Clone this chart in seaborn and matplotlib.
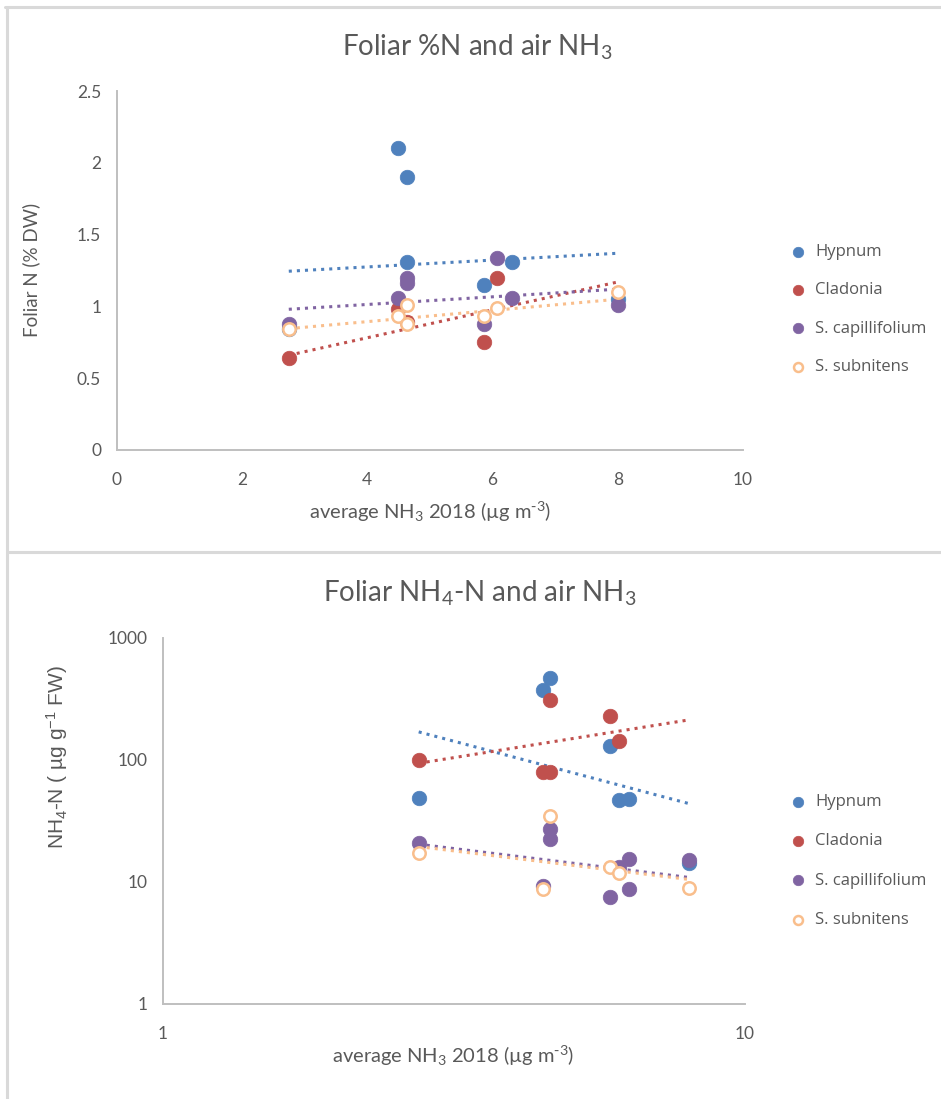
import matplotlib

matplotlib.use("Agg")
import matplotlib.pyplot as plt
import seaborn as sns
from matplotlib.lines import Line2D
from matplotlib.ticker import FixedLocator, NullLocator, FuncFormatter

sns.set_theme(style="white")
plt.rcParams["font.family"] = ["Lato", "DejaVu Sans"]
plt.rcParams["mathtext.default"] = "regular"

species = ["Hypnum", "Cladonia", "S. capillifolium", "S. subnitens"]
colors = ["#4F81BD", "#C0504D", "#8064A2", "#F9BE8C"]
open_marker = [False, False, False, True]

# --- Foliar %N (top panel) ---
pctn_hypnum_x = [2.75, 4.49, 4.63, 4.63, 5.87, 6.32, 8.0]
pctn_hypnum_y = [0.84, 2.10, 1.90, 1.31, 1.15, 1.31, 1.05]
pctn_cladonia_x = [2.75, 4.49, 4.63, 5.87, 6.08]
pctn_cladonia_y = [0.64, 0.98, 0.89, 0.75, 1.20]
pctn_capill_x = [2.75, 4.49, 4.63, 4.63, 5.87, 6.08, 6.32, 8.0]
pctn_capill_y = [0.88, 1.06, 1.20, 1.16, 0.88, 1.34, 1.06, 1.01]
pctn_subnit_x = [2.75, 4.49, 4.63, 4.63, 5.87, 6.08, 8.0]
pctn_subnit_y = [0.84, 0.93, 1.01, 0.88, 0.93, 0.99, 1.10]
# trendline values at the lowest / highest NH3 site
trend_x = [2.75, 8.0]
pctn_trend_start = [1.245, 0.66, 0.98, 0.845]
pctn_trend_end = [1.37, 1.17, 1.12, 1.05]

# --- Foliar NH4-N (bottom panel, log-log) ---
nh4_hypnum_x = [2.75, 4.49, 4.63, 5.87, 6.08, 6.32, 8.0]
nh4_hypnum_y = [49, 375, 467, 130, 47, 48, 14.2]
nh4_cladonia_x = [2.75, 4.49, 4.63, 4.63, 5.87, 6.08]
nh4_cladonia_y = [100, 80, 80, 310, 231, 144]
nh4_capill_x = [2.75, 4.49, 4.63, 4.63, 5.87, 6.08, 6.32, 6.32, 8.0]
nh4_capill_y = [20.8, 9.3, 27.2, 22.4, 7.6, 13.3, 15.4, 8.7, 15.1]
nh4_subnit_x = [2.75, 4.49, 4.63, 5.87, 6.08, 8.0]
nh4_subnit_y = [17.2, 8.7, 34.8, 13.2, 11.9, 8.9]
nh4_trend_start = [170, 94, 20.4, 19.5]
nh4_trend_end = [44, 213, 10.9, 10.5]

TEXT = "#595959"
AXIS = "#BFBFBF"
BORDER = "#D9D9D9"
XLABEL = r"average NH$_3$ 2018 (µg m$^{\text{-}3}$)"


def draw_panel(ax, xs, ys, t_start, t_end):
    for i, name in enumerate(species):
        sns.lineplot(
            x=trend_x, y=[t_start[i], t_end[i]], ax=ax, color=colors[i],
            linestyle=":", linewidth=2.2, zorder=2, legend=False,
        )
    for i, name in enumerate(species):
        if open_marker[i]:
            sns.scatterplot(
                x=xs[i], y=ys[i], ax=ax, s=80, facecolor="white",
                edgecolor=colors[i], linewidth=1.8, label=name, zorder=3 + i,
            )
        else:
            sns.scatterplot(
                x=xs[i], y=ys[i], ax=ax, s=110, color=colors[i],
                edgecolor=colors[i], linewidth=0.5, label=name, zorder=3 + i,
            )
    for side in ["top", "right"]:
        ax.spines[side].set_visible(False)
    for side in ["left", "bottom"]:
        ax.spines[side].set_color(AXIS)
        ax.spines[side].set_linewidth(1.4)
    ax.tick_params(length=0, labelcolor=TEXT, labelsize=12.5)
    ax.tick_params(axis="x", pad=16)
    ax.tick_params(axis="y", pad=11)
    ax.grid(False)


def add_legend(ax, top_px, spacing):
    h, l = ax.get_legend_handles_labels()
    ax.legend(
        h, l, loc="upper left", frameon=False,
        bbox_to_anchor=(766 / 941, 1 - top_px / 1099),
        bbox_transform=ax.figure.transFigure,
        labelspacing=spacing, handletextpad=0.05,
        markerscale=0.72, labelcolor=TEXT,
        prop={"family": ["Open Sans", "DejaVu Sans"], "size": 12},
    )


fig = plt.figure(figsize=(9.41, 10.99), dpi=100)

# top chart
ax1 = fig.add_axes([116.5 / 941, 1 - 450 / 1099, 626.5 / 941, 359 / 1099])
draw_panel(
    ax1,
    [pctn_hypnum_x, pctn_cladonia_x, pctn_capill_x, pctn_subnit_x],
    [pctn_hypnum_y, pctn_cladonia_y, pctn_capill_y, pctn_subnit_y],
    pctn_trend_start, pctn_trend_end,
)
ax1.set_xlim(0, 10)
ax1.set_ylim(0, 2.5)
ax1.xaxis.set_major_locator(FixedLocator([0, 2, 4, 6, 8, 10]))
ax1.yaxis.set_major_locator(FixedLocator([0, 0.5, 1, 1.5, 2, 2.5]))
ax1.yaxis.set_major_formatter(FuncFormatter(lambda v, p: f"{v:g}"))
ax1.set_xlabel(XLABEL, color=TEXT, fontsize=14.5)
ax1.xaxis.set_label_coords((430 - 116.5) / 626.5, -(500 - 450) / 359)
ax1.set_ylabel("Foliar N (% DW)", color=TEXT, fontsize=13.5)
ax1.yaxis.set_label_coords((40 - 116.5) / 626.5, (450 - 270) / 359)
fig.text(477 / 941, 1 - 47 / 1099, "Foliar %N and air NH$_3$", ha="center",
         va="center", fontsize=20, color=TEXT)
add_legend(ax1, 229, 1.34)

# bottom chart
ax2 = fig.add_axes([163 / 941, 1 - 1004 / 1099, 582 / 941, 366 / 1099])
draw_panel(
    ax2,
    [nh4_hypnum_x, nh4_cladonia_x, nh4_capill_x, nh4_subnit_x],
    [nh4_hypnum_y, nh4_cladonia_y, nh4_capill_y, nh4_subnit_y],
    nh4_trend_start, nh4_trend_end,
)
ax2.set_xscale("log")
ax2.set_yscale("log")
ax2.set_xlim(1, 10)
ax2.set_ylim(1, 1000)
ax2.xaxis.set_major_locator(FixedLocator([1, 10]))
ax2.yaxis.set_major_locator(FixedLocator([1, 10, 100, 1000]))
for axis in [ax2.xaxis, ax2.yaxis]:
    axis.set_minor_locator(NullLocator())
    axis.set_major_formatter(FuncFormatter(lambda v, p: f"{v:g}"))
ax2.set_xlabel(XLABEL, color=TEXT, fontsize=14.5)
ax2.xaxis.set_label_coords((453 - 163) / 582, -(1044 - 1004) / 366)
ax2.set_ylabel("NH$_4$-N ( µg g$^{-1}$ FW)", color=TEXT, fontsize=15,
               family=["Liberation Sans", "DejaVu Sans"])
ax2.yaxis.set_label_coords((70 - 163) / 582, (1004 - 757) / 366)
fig.text(480 / 941, 1 - 593 / 1099, "Foliar NH$_4$-N and air NH$_3$", ha="center",
         va="center", fontsize=20, color=TEXT)
add_legend(ax2, 779, 1.4)

# chart area borders
for xs_, ys_ in [
    ([5 / 941, 1], [1 - 7 / 1099, 1 - 7 / 1099]),
    ([7 / 941, 7 / 941], [0, 1 - 7 / 1099]),
    ([7 / 941, 1], [1 - 552 / 1099, 1 - 552 / 1099]),
]:
    fig.add_artist(Line2D(xs_, ys_, color=BORDER, linewidth=2.2))

fig.savefig("out.png", dpi=100, facecolor="white")
